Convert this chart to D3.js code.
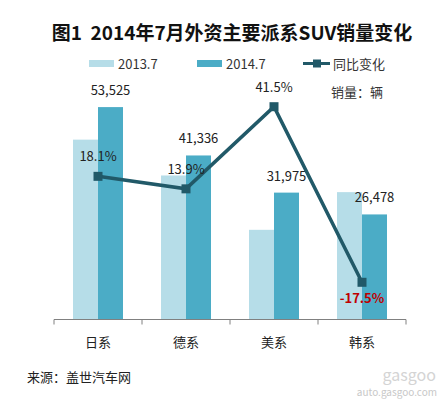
<!DOCTYPE html>
<html>
<head>
<meta charset="utf-8">
<script src="https://cdn.jsdelivr.net/npm/d3@7"></script>
<style>
  body { margin: 0; background: #fff; }
  text { font-family: "Noto Sans CJK SC", "DejaVu Sans", sans-serif; }
</style>
</head>
<body>
<div id="chart"></div>
<script>
// data
var categories = ["日系", "德系", "美系", "韩系"];
var series = ["2013.7", "2014.7"];
var sales2013 = [45322, 36292, 22597, 32095];
var sales2014 = [53525, 41336, 31975, 26478];
var yoy = [18.1, 13.9, 41.5, -17.5];
var salesTicks = [0, 60000];
var yoyTicks = [-30, 50];

var svgWidth = 442, svgHeight = 399;
var colors = { a: "#b6dde8", b: "#4bacc6", line: "#215968" };

var svg = d3.select("#chart").append("svg")
    .attr("width", svgWidth)
    .attr("height", svgHeight);

svg.append("rect").attr("width", svgWidth).attr("height", svgHeight).attr("fill", "#fff");

// title
svg.append("text")
    .attr("x", 232).attr("y", 40)
    .attr("text-anchor", "middle")
    .attr("font-size", 19)
    .attr("font-weight", "bold")
    .attr("fill", "#111")
    .style("white-space", "pre")
    .text("图1  2014年7月外资主要派系SUV销量变化");

// scales
var x = d3.scaleBand().domain(categories).range([54, 406]);
var xs = d3.scaleBand().domain(series).range([x.bandwidth() / 2 - 25, x.bandwidth() / 2 + 25]);
var y = d3.scaleLinear().domain(d3.extent(salesTicks)).range([319.5, 81.4]);
var y2 = d3.scaleLinear().domain(d3.extent(yoyTicks)).range([319.5, 81.4]);

var rows = categories.map(function(c, i) {
    return { cat: c, v: [sales2013[i], sales2014[i]], p: yoy[i] };
});

// bars
var groups = svg.append("g").selectAll("g")
    .data(rows).enter().append("g")
    .attr("transform", d => `translate(${x(d.cat)},0)`);

groups.selectAll("rect")
    .data(d => d.v.map((v, j) => ({ s: series[j], v: v })))
    .enter().append("rect")
    .attr("x", d => xs(d.s))
    .attr("width", xs.bandwidth())
    .attr("y", d => y(d.v))
    .attr("height", d => y(0) - y(d.v))
    .attr("fill", (d, j) => j === 0 ? colors.a : colors.b);

// axis
var bottomAxis = d3.axisBottom(x).tickSize(0).tickPadding(18);
var axisG = svg.append("g")
    .attr("transform", `translate(0, ${y(0)})`)
    .call(bottomAxis);
axisG.select(".domain").attr("stroke", "#808080").attr("d", "M54,0H406");
axisG.selectAll("text").attr("font-size", 13).attr("fill", "#222");
// category boundary ticks
axisG.selectAll(".sep")
    .data(categories.concat(["end"])).enter().append("line")
    .attr("x1", (d, i) => i < categories.length ? x(d) : x.range()[1])
    .attr("x2", (d, i) => i < categories.length ? x(d) : x.range()[1])
    .attr("y1", 0).attr("y2", 5)
    .attr("stroke", "#808080");

// value labels over 2014.7 bars
svg.append("g").selectAll("text")
    .data(rows).enter().append("text")
    .attr("x", d => x(d.cat) + xs("2014.7") + xs.bandwidth() / 2)
    .attr("y", d => y(d.v[1]) - 12)
    .attr("text-anchor", "middle")
    .attr("font-size", 13)
    .attr("fill", "#222")
    .text(d => d3.format(",")(d.v[1]));

// yoy line
var cx = d => x(d.cat) + x.bandwidth() / 2;
var line = d3.line().x(cx).y(d => y2(d.p));
svg.append("path")
    .datum(rows)
    .attr("d", line)
    .attr("fill", "none")
    .attr("stroke", colors.line)
    .attr("stroke-width", 3.5);

svg.append("g").selectAll("rect")
    .data(rows).enter().append("rect")
    .attr("x", d => cx(d) - 4.5)
    .attr("y", d => y2(d.p) - 4.5)
    .attr("width", 9).attr("height", 9)
    .attr("fill", colors.line);

svg.append("g").selectAll("text")
    .data(rows).enter().append("text")
    .attr("x", cx)
    .attr("y", d => d.p < 0 ? y2(d.p) + 21 : y2(d.p) - 15)
    .attr("text-anchor", "middle")
    .attr("font-size", 13)
    .attr("font-weight", d => d.p < 0 ? "bold" : "normal")
    .attr("fill", d => d.p < 0 ? "#c00000" : "#222")
    .text(d => d.p.toFixed(1) + "%");

// legend
var legend = svg.append("g");
var lx = [89, 197];
series.forEach(function(s, i) {
    legend.append("rect")
        .attr("x", lx[i]).attr("y", 60)
        .attr("width", 25).attr("height", 7)
        .attr("fill", i === 0 ? colors.a : colors.b);
    legend.append("text")
        .attr("x", lx[i] + 29).attr("y", 68.5)
        .attr("font-size", 13).attr("fill", "#333")
        .text(s);
});
legend.append("line")
    .attr("x1", 303).attr("x2", 330).attr("y1", 63.5).attr("y2", 63.5)
    .attr("stroke", colors.line).attr("stroke-width", 3);
legend.append("rect")
    .attr("x", 313).attr("y", 59.5).attr("width", 8).attr("height", 8)
    .attr("fill", colors.line);
legend.append("text")
    .attr("x", 333).attr("y", 68.5)
    .attr("font-size", 13).attr("fill", "#333")
    .text("同比变化");

svg.append("text")
    .attr("x", 331).attr("y", 97)
    .attr("font-size", 13).attr("fill", "#333")
    .text("销量：辆");

// source
svg.append("text")
    .attr("x", 27).attr("y", 382)
    .attr("font-size", 13).attr("fill", "#222")
    .text("来源：盖世汽车网");

// watermark
svg.append("text")
    .attr("x", 436).attr("y", 381)
    .attr("text-anchor", "end")
    .attr("font-size", 16)
    .attr("font-family", "DejaVu Serif")
    .attr("fill", "#d4d4d4")
    .text("gasgoo");
svg.append("text")
    .attr("x", 437).attr("y", 396)
    .attr("text-anchor", "end")
    .attr("font-size", 10)
    .attr("fill", "#c8c8c8")
    .text("auto.gasgoo.com");
</script>
</body>
</html>
